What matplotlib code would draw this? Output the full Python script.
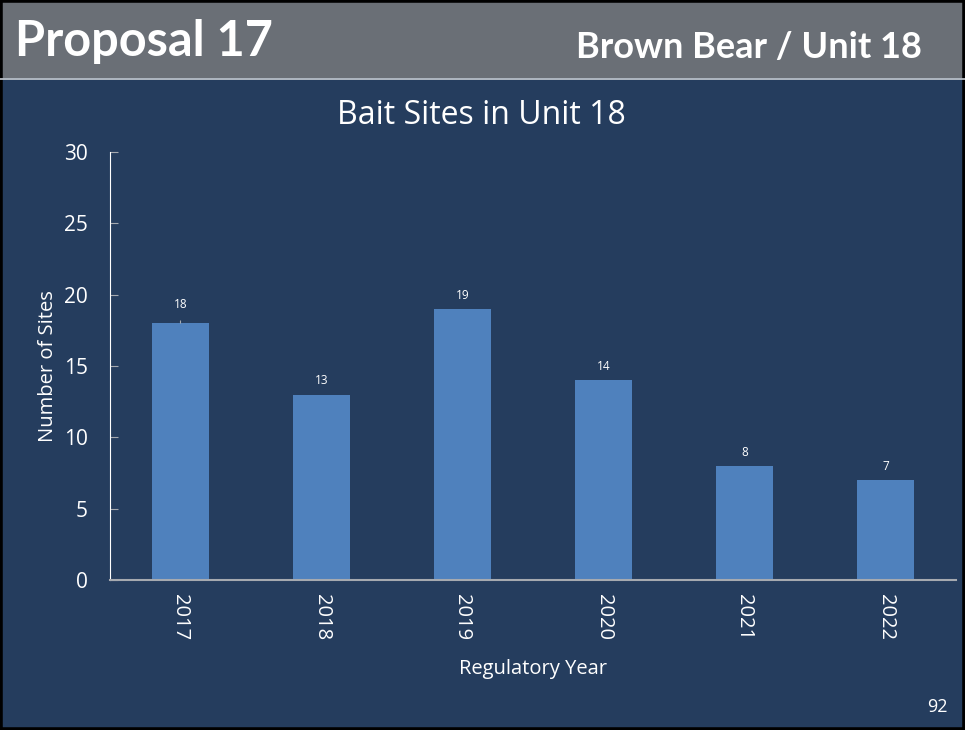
import numpy as np
import matplotlib.pyplot as plt
from matplotlib.patches import Rectangle

years = ['2017', '2018', '2019', '2020', '2021', '2022']
sites = [18, 13, 19, 14, 8, 7]

navy = '#253d5e'
header_gray = '#6a6f76'
bar_blue = '#4f81bd'

fig = plt.figure(figsize=(9.65, 7.3), dpi=100)
fig.patch.set_facecolor(navy)

# header band and frame
fig.add_artist(Rectangle((0, 1 - 78 / 730), 1, 78 / 730, transform=fig.transFigure,
                         facecolor=header_gray, edgecolor='none'))
fig.add_artist(plt.Line2D([0, 1], [1 - 79 / 730] * 2, transform=fig.transFigure,
                          color='#c8ccd2', lw=1.2))
fig.add_artist(Rectangle((0, 0), 1, 1, transform=fig.transFigure,
                         facecolor='none', edgecolor='black', lw=4))

fig.text(15 / 965, 1 - 42 / 730, 'Proposal 17', color='white', fontsize=35,
         fontweight='bold', family='Lato', va='center', ha='left')
fig.text(922 / 965, 1 - 47 / 730, 'Brown Bear / Unit 18', color='white', fontsize=26,
         fontweight='bold', family='Lato', va='center', ha='right')
fig.text(948 / 965, 1 - 707 / 730, '92', color='white', fontsize=13,
         family='Open Sans', va='center', ha='right')
fig.text(481 / 965, 1 - 115 / 730, 'Bait Sites in Unit 18', color='white',
         fontsize=23, family='Open Sans', va='center', ha='center')

ax = fig.add_axes([110 / 965, 150 / 730, 846 / 965, 428 / 730])
ax.set_facecolor(navy)
x = np.arange(len(years))
ax.bar(x, sites, width=0.41, color=bar_blue)
ax.set_xlim(-0.5, len(years) - 0.5)
ax.set_ylim(0, 30)
ax.set_yticks(range(0, 31, 5))
ax.set_xticks(x)
ax.set_xticklabels(years, rotation=270, family='Open Sans', fontsize=14.5, color='white')
for lbl in ax.get_yticklabels():
    lbl.set_family('Open Sans')
ax.tick_params(axis='y', colors='#a6aab0', labelcolor='white', labelsize=15,
               direction='in', length=6, pad=16)
ax.tick_params(axis='x', length=0, pad=10)

for s in ['top', 'right']:
    ax.spines[s].set_visible(False)
ax.spines['left'].set_color('white')
ax.spines['bottom'].set_color('#a6aab0')
ax.spines['bottom'].set_linewidth(1.5)

for i, v in enumerate(sites):
    if i == 0:
        ax.annotate(str(v), xy=(i, v), xytext=(i, v + 1.3), ha='center', va='center',
                    color='white', fontsize=8.5, family='Open Sans',
                    arrowprops=dict(arrowstyle='-', color='#a6aab0', lw=0.8,
                                    shrinkA=5, shrinkB=0))
    else:
        ax.text(i, v + 0.95, str(v), ha='center', va='center', color='white',
                fontsize=8.5, family='Open Sans')

ax.set_ylabel('Number of Sites', color='white', fontsize=14.5, family='Open Sans',
              labelpad=4)
ax.set_xlabel('Regulatory Year', color='white', fontsize=14.5, family='Open Sans',
              labelpad=14)

fig.savefig('out.png', dpi=100, facecolor=fig.get_facecolor())
